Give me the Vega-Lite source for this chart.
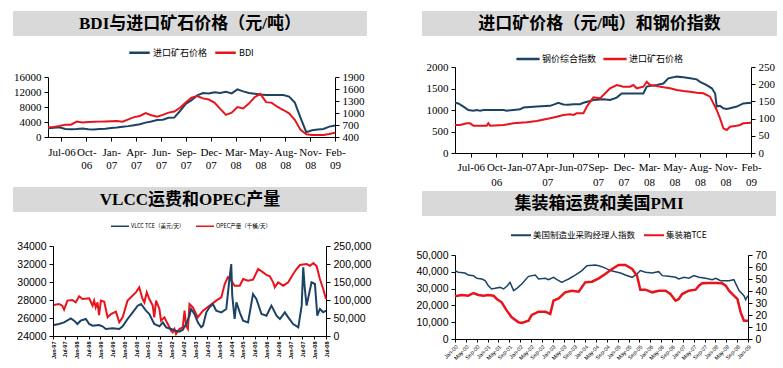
{
  "$schema": "https://vega.github.io/schema/vega-lite/v6.json",
  "background": "white",
  "padding": {"left": 13, "top": 11, "right": 0, "bottom": 0},
  "config": {
    "view": {"stroke": null},
    "axis": {"grid": false, "domainColor": "#000", "tickColor": "#000", "labelColor": "#000", "title": null, "tickSize": 4, "labelPadding": 3},
    "legend": {"orient": "none", "direction": "horizontal", "title": null, "symbolType": "stroke", "labelColor": "#000", "labelFont": "Noto Sans CJK SC"}
  },
  "resolve": {"scale": {"color": "independent"}, "legend": {"color": "independent"}},
  "hconcat": [
    {
      "spacing": 17,
      "resolve": {"scale": {"color": "independent"}, "legend": {"color": "independent"}},
      "vconcat": [
        {
          "spacing": 35,
          "vconcat": [
            {
              "width": 354, "height": 25,
              "view": {"fill": "#d9d9d9", "stroke": null},
              "data": {"values": [{"title": "BDI与进口矿石价格（元/吨）"}]},
              "mark": {"type": "text", "font": "Liberation Serif, Noto Sans CJK SC", "fontSize": 17, "fontWeight": "bold", "color": "#000"},
              "encoding": {"text": {"field": "title"}}
            },
            {
              "width": 354, "height": 60,
              "data": {"values": [
                {"week": 0, "ore": 617, "bdi": 2580}, {"week": 3, "ore": 630, "bdi": 2700}, {"week": 6, "ore": 642, "bdi": 2930},
                {"week": 9, "ore": 600, "bdi": 3300}, {"week": 12, "ore": 592, "bdi": 3300}, {"week": 15, "ore": 600, "bdi": 4100},
                {"week": 18, "ore": 612, "bdi": 3900}, {"week": 21, "ore": 595, "bdi": 4000}, {"week": 24, "ore": 590, "bdi": 4050},
                {"week": 27, "ore": 598, "bdi": 4100}, {"week": 30, "ore": 608, "bdi": 4150}, {"week": 33, "ore": 622, "bdi": 4200},
                {"week": 36, "ore": 635, "bdi": 4250}, {"week": 39, "ore": 655, "bdi": 4100}, {"week": 42, "ore": 672, "bdi": 4700},
                {"week": 45, "ore": 695, "bdi": 5300}, {"week": 48, "ore": 720, "bdi": 5600}, {"week": 51, "ore": 760, "bdi": 6400},
                {"week": 54, "ore": 790, "bdi": 5800}, {"week": 57, "ore": 825, "bdi": 5400}, {"week": 60, "ore": 830, "bdi": 5900},
                {"week": 63, "ore": 880, "bdi": 6500}, {"week": 66, "ore": 885, "bdi": 6800}, {"week": 69, "ore": 1050, "bdi": 7800},
                {"week": 72, "ore": 1230, "bdi": 9200}, {"week": 75, "ore": 1320, "bdi": 10500}, {"week": 78, "ore": 1440, "bdi": 10930},
                {"week": 81, "ore": 1500, "bdi": 10300}, {"week": 84, "ore": 1490, "bdi": 10000}, {"week": 87, "ore": 1520, "bdi": 9200},
                {"week": 90, "ore": 1500, "bdi": 7500}, {"week": 93, "ore": 1530, "bdi": 5900}, {"week": 96, "ore": 1490, "bdi": 6500},
                {"week": 99, "ore": 1590, "bdi": 8000}, {"week": 102, "ore": 1540, "bdi": 7600}, {"week": 105, "ore": 1500, "bdi": 8900},
                {"week": 108, "ore": 1480, "bdi": 10600}, {"week": 111, "ore": 1460, "bdi": 11500}, {"week": 114, "ore": 1450, "bdi": 9300},
                {"week": 117, "ore": 1450, "bdi": 9100}, {"week": 120, "ore": 1450, "bdi": 8000}, {"week": 123, "ore": 1450, "bdi": 7200},
                {"week": 126, "ore": 1410, "bdi": 6300}, {"week": 129, "ore": 1260, "bdi": 4600}, {"week": 132, "ore": 880, "bdi": 1900},
                {"week": 135, "ore": 520, "bdi": 750}, {"week": 138, "ore": 570, "bdi": 550}, {"week": 141, "ore": 585, "bdi": 520},
                {"week": 144, "ore": 600, "bdi": 530}, {"week": 147, "ore": 660, "bdi": 780}, {"week": 150, "ore": 690, "bdi": 1150}
              ]},
              "encoding": {
                "x": {"field": "week", "type": "quantitative", "scale": {"domain": [0, 150], "range": [35, 322], "nice": false, "zero": false},
                  "axis": {"values": [7, 20, 33, 46, 59, 72, 85, 98, 111, 124, 137, 150],
                    "labelExpr": "split(['Jul-06','Oct-|06','Jan-|07','Apr-|07','Jun-|07','Sep-|07','Dec-|07','Mar-|08','May-|08','Aug-|08','Nov-|08','Feb-|09'][(datum.value-7)/13], '|')",
                    "labelFont": "Liberation Serif", "labelFontSize": 11, "labelLineHeight": 13, "labelPadding": 5, "labelOverlap": false, "labelFlush": false}}
              },
              "layer": [
                {
                  "mark": {"type": "line", "strokeWidth": 2},
                  "encoding": {
                    "y": {"field": "ore", "type": "quantitative", "scale": {"domain": [400, 1900], "nice": false, "zero": false},
                      "axis": {"orient": "right", "offset": -32, "values": [400, 700, 1000, 1300, 1600, 1900], "format": "d", "labelFont": "Liberation Serif", "labelFontSize": 11}},
                    "color": {"datum": "进口矿石价格", "scale": {"domain": ["进口矿石价格", "BDI"], "range": ["#1c4366", "#e8141c"]},
                      "legend": {"legendX": 115, "legendY": 30, "symbolSize": 420, "symbolStrokeWidth": 2.5, "labelFontSize": 9, "labelOffset": 2, "columnPadding": 2}}
                  }
                },
                {
                  "mark": {"type": "line", "strokeWidth": 2},
                  "encoding": {
                    "y": {"field": "bdi", "type": "quantitative", "scale": {"domain": [0, 16000], "nice": false},
                      "axis": {"orient": "left", "offset": -35, "values": [0, 4000, 8000, 12000, 16000], "format": "d", "labelFont": "Liberation Serif", "labelFontSize": 11}},
                    "color": {"datum": "BDI"}
                  }
                }
              ],
              "resolve": {"scale": {"y": "independent"}}
            }
          ]
        },
        {
          "spacing": 29,
          "vconcat": [
            {
              "width": 354, "height": 25,
              "view": {"fill": "#d9d9d9", "stroke": null},
              "data": {"values": [{"title": "VLCC运费和OPEC产量"}]},
              "mark": {"type": "text", "font": "Liberation Serif, Noto Sans CJK SC", "fontSize": 17, "fontWeight": "bold", "color": "#000"},
              "encoding": {"text": {"field": "title"}}
            },
            {
              "width": 354, "height": 90,
              "encoding": {
                "x": {"field": "m", "type": "quantitative", "scale": {"domain": [0, 138], "range": [40, 313], "nice": false, "zero": false},
                  "axis": {"values": [0, 6, 12, 18, 24, 30, 36, 42, 48, 54, 60, 66, 72, 78, 84, 90, 96, 102, 108, 114, 120, 126, 132, 138],
                    "labelExpr": "['Jan-97','Jul-97','Jan-98','Jul-98','Jan-99','Jul-99','Jan-00','Jul-00','Jan-01','Jul-01','Jan-02','Jul-02','Jan-03','Jul-03','Jan-04','Jul-04','Jan-05','Jul-05','Jan-06','Jul-06','Jan-07','Jul-07','Jan-08','Jul-08'][datum.value/6]",
                    "labelAngle": 270, "labelFont": "Liberation Sans", "labelFontSize": 5.5, "labelFontWeight": "bold", "tickSize": 3, "labelPadding": 2, "labelOverlap": false, "labelFlush": false}}
              },
              "layer": [
                {
                  "data": {"values": [
                    {"m": 0.5, "opec": 27440}, {"m": 3, "opec": 27560}, {"m": 4.7, "opec": 27370}, {"m": 5.6, "opec": 26930}, {"m": 7.3, "opec": 27930},
                    {"m": 9.8, "opec": 28000}, {"m": 11.5, "opec": 27740}, {"m": 13.2, "opec": 28410}, {"m": 14.9, "opec": 28110}, {"m": 18.3, "opec": 28190},
                    {"m": 20, "opec": 27370}, {"m": 20.8, "opec": 27930}, {"m": 21.6, "opec": 27180}, {"m": 22.5, "opec": 27740}, {"m": 23.3, "opec": 26330},
                    {"m": 24.2, "opec": 27930}, {"m": 25.9, "opec": 27810}, {"m": 27.6, "opec": 26070}, {"m": 29.3, "opec": 26440}, {"m": 31.8, "opec": 26700},
                    {"m": 33.5, "opec": 25520}, {"m": 35.2, "opec": 26070}, {"m": 37.7, "opec": 27930}, {"m": 39.4, "opec": 28300}, {"m": 41.9, "opec": 28850},
                    {"m": 43.6, "opec": 29410}, {"m": 45.3, "opec": 28110}, {"m": 46.2, "opec": 27740}, {"m": 47.4, "opec": 28850}, {"m": 48.7, "opec": 28110},
                    {"m": 50.4, "opec": 27370}, {"m": 51.2, "opec": 26070}, {"m": 52.1, "opec": 27930}, {"m": 53.8, "opec": 27000}, {"m": 54.6, "opec": 25700},
                    {"m": 56.3, "opec": 26070}, {"m": 58, "opec": 25330}, {"m": 59.7, "opec": 24590}, {"m": 60.5, "opec": 24410}, {"m": 61.4, "opec": 24780},
                    {"m": 62.2, "opec": 24220}, {"m": 63.9, "opec": 24780}, {"m": 65.6, "opec": 24960}, {"m": 66.5, "opec": 26810}, {"m": 67.3, "opec": 25110},
                    {"m": 68.2, "opec": 24780}, {"m": 69, "opec": 27560}, {"m": 70.7, "opec": 27180}, {"m": 73.2, "opec": 26070}, {"m": 75.8, "opec": 26810},
                    {"m": 79.1, "opec": 27370}, {"m": 82.5, "opec": 27930}, {"m": 85.1, "opec": 28300}, {"m": 86.8, "opec": 29780}, {"m": 88.4, "opec": 30520},
                    {"m": 90.1, "opec": 30150}, {"m": 91.8, "opec": 29590}, {"m": 94.4, "opec": 29590}, {"m": 96.1, "opec": 30330}, {"m": 98.6, "opec": 30150},
                    {"m": 101.1, "opec": 30260}, {"m": 103.7, "opec": 31440}, {"m": 106.2, "opec": 31070}, {"m": 107.9, "opec": 30780}, {"m": 109.6, "opec": 30630},
                    {"m": 111.3, "opec": 29960}, {"m": 112.1, "opec": 29410}, {"m": 113.8, "opec": 29960}, {"m": 116.4, "opec": 29590}, {"m": 118.9, "opec": 29960},
                    {"m": 121.4, "opec": 30890}, {"m": 123.1, "opec": 31440}, {"m": 124.8, "opec": 31890}, {"m": 128.2, "opec": 32000}, {"m": 129.9, "opec": 31810},
                    {"m": 131.6, "opec": 32110}, {"m": 133.3, "opec": 31740}, {"m": 134.9, "opec": 30330}, {"m": 136.6, "opec": 29220}, {"m": 138, "opec": 28110}
                  ]},
                  "mark": {"type": "line", "strokeWidth": 2},
                  "encoding": {
                    "y": {"field": "opec", "type": "quantitative", "scale": {"domain": [24000, 34000], "nice": false, "zero": false},
                      "axis": {"orient": "left", "offset": -40, "values": [24000, 26000, 28000, 30000, 32000, 34000], "format": "d", "labelFont": "Liberation Sans", "labelFontSize": 10.5}},
                    "color": {"datum": "OPEC产量（千桶/天）", "scale": {"domain": ["VLCC TCE（美元/天）", "OPEC产量（千桶/天）"], "range": ["#1c4366", "#e8141c"]},
                      "legend": {"legendX": 97, "legendY": 29, "symbolSize": 324, "symbolStrokeWidth": 1.5, "labelFontSize": 5.5, "labelOffset": 1, "columnPadding": 8}}
                  }
                },
                {
                  "data": {"values": [
                    {"m": 0.5, "vlcc": 30560}, {"m": 3, "vlcc": 33330}, {"m": 5.6, "vlcc": 37960}, {"m": 9, "vlcc": 49070}, {"m": 10.7, "vlcc": 42590},
                    {"m": 12.3, "vlcc": 33330}, {"m": 14, "vlcc": 42590}, {"m": 16.6, "vlcc": 47220}, {"m": 18.3, "vlcc": 33330}, {"m": 20, "vlcc": 28700},
                    {"m": 23.3, "vlcc": 30560}, {"m": 25, "vlcc": 26850}, {"m": 26.7, "vlcc": 19440}, {"m": 30.1, "vlcc": 21300}, {"m": 33.5, "vlcc": 19440},
                    {"m": 35.2, "vlcc": 26850}, {"m": 37.7, "vlcc": 47220}, {"m": 40.3, "vlcc": 65740}, {"m": 42.8, "vlcc": 84260}, {"m": 44.5, "vlcc": 88890},
                    {"m": 47, "vlcc": 70370}, {"m": 48.7, "vlcc": 61110}, {"m": 51.2, "vlcc": 33330}, {"m": 53.8, "vlcc": 26850}, {"m": 55.5, "vlcc": 37960},
                    {"m": 57.2, "vlcc": 24070}, {"m": 59.7, "vlcc": 19440}, {"m": 62.2, "vlcc": 14810}, {"m": 63.9, "vlcc": 12040}, {"m": 65.6, "vlcc": 17590},
                    {"m": 67.3, "vlcc": 33330}, {"m": 69, "vlcc": 56480}, {"m": 69.8, "vlcc": 75000}, {"m": 71.5, "vlcc": 61110}, {"m": 73.2, "vlcc": 37960},
                    {"m": 74.9, "vlcc": 24070}, {"m": 75.8, "vlcc": 28700}, {"m": 77.5, "vlcc": 65740}, {"m": 79.1, "vlcc": 79630}, {"m": 80.8, "vlcc": 88890},
                    {"m": 82.5, "vlcc": 70370}, {"m": 85.1, "vlcc": 65740}, {"m": 87.6, "vlcc": 75000}, {"m": 89, "vlcc": 149070}, {"m": 90.1, "vlcc": 200000},
                    {"m": 90.6, "vlcc": 112960}, {"m": 91.8, "vlcc": 47220}, {"m": 92.7, "vlcc": 93520}, {"m": 94.4, "vlcc": 65740}, {"m": 96.1, "vlcc": 42590},
                    {"m": 98.6, "vlcc": 37960}, {"m": 101.1, "vlcc": 116670}, {"m": 102.8, "vlcc": 102780}, {"m": 105.4, "vlcc": 61110}, {"m": 107.9, "vlcc": 56480},
                    {"m": 110.4, "vlcc": 84260}, {"m": 113, "vlcc": 56480}, {"m": 114.7, "vlcc": 47220}, {"m": 117.2, "vlcc": 65740}, {"m": 118.9, "vlcc": 51850},
                    {"m": 121.4, "vlcc": 33330}, {"m": 124, "vlcc": 24070}, {"m": 125.7, "vlcc": 84260}, {"m": 126.5, "vlcc": 190740}, {"m": 127.3, "vlcc": 130560},
                    {"m": 128.2, "vlcc": 84260}, {"m": 130.7, "vlcc": 149070}, {"m": 132.4, "vlcc": 144440}, {"m": 133.6, "vlcc": 56480}, {"m": 134.9, "vlcc": 75000},
                    {"m": 136.6, "vlcc": 65740}, {"m": 138, "vlcc": 70370}
                  ]},
                  "mark": {"type": "line", "strokeWidth": 2},
                  "encoding": {
                    "y": {"field": "vlcc", "type": "quantitative", "scale": {"domain": [0, 250000], "nice": false},
                      "axis": {"orient": "right", "offset": -41, "values": [0, 50000, 100000, 150000, 200000, 250000], "format": ",d", "labelFont": "Liberation Sans", "labelFontSize": 10.5}},
                    "color": {"datum": "VLCC TCE（美元/天）"}
                  }
                }
              ],
              "resolve": {"scale": {"y": "independent"}}
            }
          ]
        }
      ]
    },
    {
      "spacing": 4,
      "resolve": {"scale": {"color": "independent"}, "legend": {"color": "independent"}},
      "vconcat": [
        {
          "spacing": 25,
          "vconcat": [
            {
              "width": 355, "height": 25,
              "view": {"fill": "#d9d9d9", "stroke": null},
              "data": {"values": [{"title": "进口矿价格（元/吨）和钢价指数"}]},
              "mark": {"type": "text", "font": "Liberation Serif, Noto Sans CJK SC", "fontSize": 17, "fontWeight": "bold", "color": "#000"},
              "encoding": {"text": {"field": "title"}}
            },
            {
              "width": 355, "height": 86,
              "encoding": {
                "x": {"field": "week", "type": "quantitative", "scale": {"domain": [0, 151], "range": [33, 329], "nice": false, "zero": false},
                  "axis": {"values": [8, 21, 34, 47, 60, 73, 86, 99, 112, 125, 138, 151],
                    "labelExpr": "split(['Jul-06','Oct-|06','Jan-07','Apr-|07','Jun-07','Sep-|07','Dec-|07','Mar-|08','May-|08','Aug-|08','Nov-|08','Feb-|09'][(datum.value-8)/13], '|')",
                    "labelFont": "Liberation Serif", "labelFontSize": 11, "labelLineHeight": 15, "labelPadding": 4, "labelOverlap": false, "labelFlush": false}}
              },
              "layer": [
                {
                  "data": {"values": [
                    {"week": 0, "steel": 146}, {"week": 1.7, "steel": 144}, {"week": 4.3, "steel": 135}, {"week": 6.8, "steel": 125}, {"week": 9.4, "steel": 123},
                    {"week": 11, "steel": 125}, {"week": 12.8, "steel": 123}, {"week": 14.5, "steel": 125}, {"week": 24.7, "steel": 125}, {"week": 26.4, "steel": 123},
                    {"week": 29.8, "steel": 125}, {"week": 33.2, "steel": 127}, {"week": 34.9, "steel": 132}, {"week": 41.7, "steel": 135}, {"week": 48.5, "steel": 137},
                    {"week": 51, "steel": 142}, {"week": 52.7, "steel": 146}, {"week": 55.3, "steel": 141}, {"week": 57.8, "steel": 140}, {"week": 60.4, "steel": 142},
                    {"week": 63.8, "steel": 142}, {"week": 65.5, "steel": 146}, {"week": 68.9, "steel": 151}, {"week": 70.6, "steel": 154}, {"week": 75.7, "steel": 156},
                    {"week": 79.1, "steel": 154}, {"week": 82.5, "steel": 161}, {"week": 85, "steel": 173}, {"week": 92.7, "steel": 173}, {"week": 96.1, "steel": 173},
                    {"week": 97.8, "steel": 193}, {"week": 102.9, "steel": 198}, {"week": 106.3, "steel": 202}, {"week": 108.8, "steel": 217}, {"week": 113.1, "steel": 222},
                    {"week": 116.5, "steel": 220}, {"week": 119.9, "steel": 217}, {"week": 123.3, "steel": 214}, {"week": 125, "steel": 207}, {"week": 128.4, "steel": 197},
                    {"week": 131, "steel": 188}, {"week": 132.7, "steel": 173}, {"week": 133.5, "steel": 135}, {"week": 135.2, "steel": 137}, {"week": 136.9, "steel": 130},
                    {"week": 138.6, "steel": 128}, {"week": 140.3, "steel": 130}, {"week": 143.7, "steel": 135}, {"week": 147.1, "steel": 144}, {"week": 151, "steel": 146}
                  ]},
                  "mark": {"type": "line", "strokeWidth": 2},
                  "encoding": {
                    "y": {"field": "steel", "type": "quantitative", "scale": {"domain": [0, 250], "nice": false},
                      "axis": {"orient": "right", "offset": -26, "values": [0, 50, 100, 150, 200, 250], "format": "d", "labelFont": "Liberation Serif", "labelFontSize": 11}},
                    "color": {"datum": "钢价综合指数", "scale": {"domain": ["钢价综合指数", "进口矿石价格"], "range": ["#1c4366", "#e8141c"]},
                      "legend": {"legendX": 93, "legendY": 35, "symbolSize": 540, "symbolStrokeWidth": 2.5, "labelFontSize": 9, "labelOffset": 1, "columnPadding": 1}}
                  }
                },
                {
                  "data": {"values": [
                    {"week": 0, "ore": 651}, {"week": 2.6, "ore": 651}, {"week": 6, "ore": 690}, {"week": 7.7, "ore": 690}, {"week": 9.4, "ore": 636},
                    {"week": 16.2, "ore": 636}, {"week": 17, "ore": 690}, {"week": 17.9, "ore": 636}, {"week": 24.7, "ore": 651}, {"week": 29.8, "ore": 690},
                    {"week": 36.6, "ore": 713}, {"week": 41.7, "ore": 744}, {"week": 48.5, "ore": 806}, {"week": 51.9, "ore": 845}, {"week": 55.3, "ore": 884},
                    {"week": 58.7, "ore": 899}, {"week": 60.4, "ore": 884}, {"week": 62.1, "ore": 922}, {"week": 65.5, "ore": 922}, {"week": 67.2, "ore": 1077},
                    {"week": 70.6, "ore": 1294}, {"week": 74, "ore": 1271}, {"week": 75.7, "ore": 1349}, {"week": 79.1, "ore": 1504}, {"week": 82.5, "ore": 1581},
                    {"week": 85.9, "ore": 1542}, {"week": 89.3, "ore": 1542}, {"week": 91, "ore": 1581}, {"week": 92.7, "ore": 1504}, {"week": 96.1, "ore": 1542},
                    {"week": 97.8, "ore": 1658}, {"week": 99.5, "ore": 1581}, {"week": 102.9, "ore": 1558}, {"week": 106.3, "ore": 1527}, {"week": 109.7, "ore": 1504},
                    {"week": 113.1, "ore": 1465}, {"week": 116.5, "ore": 1441}, {"week": 119.9, "ore": 1426}, {"week": 123.3, "ore": 1403}, {"week": 126.7, "ore": 1388},
                    {"week": 130.1, "ore": 1310}, {"week": 131.8, "ore": 1155}, {"week": 133.5, "ore": 1000}, {"week": 135.2, "ore": 806}, {"week": 136.9, "ore": 573},
                    {"week": 138.6, "ore": 535}, {"week": 140.3, "ore": 612}, {"week": 143.7, "ore": 636}, {"week": 145.4, "ore": 651}, {"week": 147.1, "ore": 690},
                    {"week": 151, "ore": 705}
                  ]},
                  "mark": {"type": "line", "strokeWidth": 2},
                  "encoding": {
                    "y": {"field": "ore", "type": "quantitative", "scale": {"domain": [0, 2000], "nice": false},
                      "axis": {"orient": "left", "offset": -33, "values": [0, 500, 1000, 1500, 2000], "format": "d", "labelFont": "Liberation Serif", "labelFontSize": 11}},
                    "color": {"datum": "进口矿石价格"}
                  }
                }
              ],
              "resolve": {"scale": {"y": "independent"}}
            }
          ]
        },
        {
          "spacing": 34,
          "vconcat": [
            {
              "width": 354, "height": 25,
              "view": {"fill": "#d9d9d9", "stroke": null},
              "data": {"values": [{"title": "集装箱运费和美国PMI"}]},
              "mark": {"type": "text", "font": "Liberation Serif, Noto Sans CJK SC", "fontSize": 17, "fontWeight": "bold", "color": "#000"},
              "encoding": {"text": {"field": "title"}}
            },
            {
              "width": 354, "height": 84,
              "encoding": {
                "x": {"field": "m", "type": "quantitative", "scale": {"domain": [0, 108], "range": [33, 326], "nice": false, "zero": false},
                  "axis": {"values": [0, 4, 8, 12, 16, 20, 24, 28, 32, 36, 40, 44, 48, 52, 56, 60, 64, 68, 72, 76, 80, 84, 88, 92, 96, 100, 104, 108],
                    "labelExpr": "['Jan-00','May-00','Sep-00','Jan-01','May-01','Sep-01','Jan-02','May-02','Sep-02','Jan-03','May-03','Sep-03','Jan-04','May-04','Sep-04','Jan-05','May-05','Sep-05','Jan-06','May-06','Sep-06','Jan-07','May-07','Sep-07','Jan-08','May-08','Sep-08','Jan-09'][datum.value/4]",
                    "labelAngle": -45, "labelFont": "Liberation Sans", "labelFontSize": 5.5, "tickSize": 3, "labelPadding": 2, "labelOverlap": false, "labelFlush": false}}
              },
              "layer": [
                {
                  "data": {"values": [
                    {"m": 0, "pmi": 57}, {"m": 1.2, "pmi": 55.6}, {"m": 3.7, "pmi": 55}, {"m": 4.9, "pmi": 53.3}, {"m": 6.8, "pmi": 52.8}, {"m": 8, "pmi": 50.6},
                    {"m": 9.9, "pmi": 50}, {"m": 11.1, "pmi": 48.6}, {"m": 12.3, "pmi": 44.4}, {"m": 13.5, "pmi": 41.7}, {"m": 14.8, "pmi": 42.2}, {"m": 16.6, "pmi": 43},
                    {"m": 17.9, "pmi": 41.7}, {"m": 19.1, "pmi": 43.9}, {"m": 20.3, "pmi": 47.2}, {"m": 21.6, "pmi": 40.3}, {"m": 22.8, "pmi": 42.2}, {"m": 24.6, "pmi": 45.8},
                    {"m": 27.1, "pmi": 52.2}, {"m": 29.6, "pmi": 53.3}, {"m": 30.8, "pmi": 50}, {"m": 33.3, "pmi": 50.6}, {"m": 34.5, "pmi": 49.4}, {"m": 36.3, "pmi": 51.4},
                    {"m": 37.6, "pmi": 49.4}, {"m": 39.4, "pmi": 47.2}, {"m": 40.6, "pmi": 48.6}, {"m": 41.9, "pmi": 50}, {"m": 44.3, "pmi": 53.3}, {"m": 46.8, "pmi": 57},
                    {"m": 48.6, "pmi": 61.1}, {"m": 51.7, "pmi": 61.7}, {"m": 53, "pmi": 61.1}, {"m": 54.8, "pmi": 59.7}, {"m": 57.3, "pmi": 57}, {"m": 59.1, "pmi": 56.1},
                    {"m": 61, "pmi": 55}, {"m": 62.8, "pmi": 53.3}, {"m": 65.3, "pmi": 51.4}, {"m": 67.1, "pmi": 54.2}, {"m": 68.3, "pmi": 57}, {"m": 70.2, "pmi": 55.6},
                    {"m": 72.7, "pmi": 55}, {"m": 73.9, "pmi": 55.6}, {"m": 75.1, "pmi": 56.1}, {"m": 76.4, "pmi": 52.8}, {"m": 78.8, "pmi": 52.2}, {"m": 81.3, "pmi": 51.4},
                    {"m": 82.5, "pmi": 50}, {"m": 84.4, "pmi": 51.4}, {"m": 86.2, "pmi": 50.6}, {"m": 88.1, "pmi": 52.8}, {"m": 89.9, "pmi": 51.4}, {"m": 92.4, "pmi": 50.6},
                    {"m": 94.8, "pmi": 49.4}, {"m": 96.1, "pmi": 50.6}, {"m": 97.9, "pmi": 48.6}, {"m": 101, "pmi": 48.6}, {"m": 102.8, "pmi": 49.4}, {"m": 104.7, "pmi": 40.3},
                    {"m": 106.5, "pmi": 36.1}, {"m": 107.1, "pmi": 32.8}, {"m": 108, "pmi": 36.1}
                  ]},
                  "mark": {"type": "line", "strokeWidth": 1.5},
                  "encoding": {
                    "y": {"field": "pmi", "type": "quantitative", "scale": {"domain": [0, 70], "nice": false},
                      "axis": {"orient": "right", "offset": -28, "values": [0, 10, 20, 30, 40, 50, 60, 70], "format": "d", "labelFont": "Liberation Sans", "labelFontSize": 10.5}},
                    "color": {"datum": "美国制造业采购经理人指数", "scale": {"domain": ["美国制造业采购经理人指数", "集装箱TCE"], "range": ["#1c4366", "#e8141c"]},
                      "legend": {"legendX": 88, "legendY": 33, "symbolSize": 400, "symbolStrokeWidth": 2, "labelFontSize": 8.5, "labelOffset": 1, "columnPadding": 4}}
                  }
                },
                {
                  "data": {"values": [
                    {"m": 0, "tce": 25400}, {"m": 2.5, "tce": 26190}, {"m": 4.9, "tce": 25790}, {"m": 6.8, "tce": 27380}, {"m": 8.6, "tce": 26190}, {"m": 10.5, "tce": 25790},
                    {"m": 12.3, "tce": 26190}, {"m": 14.2, "tce": 25790}, {"m": 15.4, "tce": 23810}, {"m": 17.2, "tce": 21830}, {"m": 19.1, "tce": 16860}, {"m": 20.9, "tce": 12900},
                    {"m": 23.4, "tce": 9920}, {"m": 24.6, "tce": 9520}, {"m": 27.1, "tce": 10910}, {"m": 28.3, "tce": 14290}, {"m": 30.8, "tce": 16270}, {"m": 33.3, "tce": 16270},
                    {"m": 35.1, "tce": 14880}, {"m": 36.3, "tce": 22820}, {"m": 38.2, "tce": 24200}, {"m": 40.6, "tce": 27780}, {"m": 43.1, "tce": 28770}, {"m": 45.6, "tce": 28170},
                    {"m": 48, "tce": 33730}, {"m": 50.5, "tce": 34130}, {"m": 53, "tce": 36110}, {"m": 55.4, "tce": 38690}, {"m": 57.9, "tce": 41670}, {"m": 60.3, "tce": 44050},
                    {"m": 62.8, "tce": 44050}, {"m": 65.3, "tce": 41670}, {"m": 67.1, "tce": 37700}, {"m": 68.3, "tce": 29360}, {"m": 70.2, "tce": 29360}, {"m": 72.7, "tce": 27780},
                    {"m": 75.1, "tce": 28770}, {"m": 77.6, "tce": 28770}, {"m": 79.4, "tce": 26780}, {"m": 81.3, "tce": 22820}, {"m": 82.5, "tce": 23810}, {"m": 83.7, "tce": 26780},
                    {"m": 86.2, "tce": 28770}, {"m": 88.7, "tce": 29360}, {"m": 89.9, "tce": 31740}, {"m": 91.1, "tce": 33130}, {"m": 93.6, "tce": 33330}, {"m": 96.1, "tce": 33330},
                    {"m": 98.5, "tce": 33130}, {"m": 99.8, "tce": 31740}, {"m": 101, "tce": 28770}, {"m": 102.8, "tce": 25790}, {"m": 104.1, "tce": 23810}, {"m": 105.3, "tce": 15870},
                    {"m": 106.5, "tce": 10910}, {"m": 108, "tce": 10910}
                  ]},
                  "mark": {"type": "line", "strokeWidth": 2.5},
                  "encoding": {
                    "y": {"field": "tce", "type": "quantitative", "scale": {"domain": [0, 50000], "nice": false},
                      "axis": {"orient": "left", "offset": -33, "values": [0, 10000, 20000, 30000, 40000, 50000], "format": ",d", "labelFont": "Liberation Sans", "labelFontSize": 10.5}},
                    "color": {"datum": "集装箱TCE"}
                  }
                }
              ],
              "resolve": {"scale": {"y": "independent"}}
            }
          ]
        }
      ]
    }
  ],
  "spacing": 44
}
